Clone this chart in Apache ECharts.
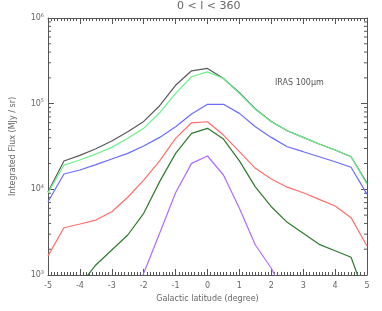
<!DOCTYPE html>
<html><head><meta charset="utf-8">
<script src="https://cdn.jsdelivr.net/npm/echarts@6/dist/echarts.min.js"></script>
<style>html,body{margin:0;padding:0;background:#fff}#c{width:382px;height:311px}</style>
</head><body><div id="c"></div>
<script>
var latitude = [-5,-4.5,-4,-3.5,-3,-2.5,-2,-1.5,-1,-0.5,0,0.5,1,1.5,2,2.5,3,3.5,4,4.5,5];
var fluxBlack  = [9300,21400,24900,29800,36600,47000,62100,94600,163800,242000,258000,197000,134000,87000,62000,48300,40400,33800,28800,24000,11800];
var fluxGreen  = [9100,19200,22000,25800,30900,39400,51500,78300,132000,206000,235000,197000,132000,85700,61500,48300,40400,33800,28800,24000,11500];
var fluxBlue   = [7160,15100,16800,19400,22600,26300,32000,40400,53700,75700,98200,98200,77000,53700,40400,31400,27500,24000,21000,18100,8800];
var fluxRed    = [1670,3560,3940,4380,5480,8080,12800,21500,39400,59800,61500,43000,27500,17600,13200,10600,9120,7640,6380,4670,2180];
var fluxDkGreen= [null,null,760,1310,1960,2930,5250,12300,26300,45000,51500,38600,21500,10700,6270,4120,3070,2280,1920,1610,500];
var fluxPurple = [null,null,null,null,null,370,1050,3070,9120,20100,24500,14700,6000,2240,1200,510,null,null,null,null,null];
var yMajor = [1000,10000,100000,1000000];
var yMinor = [];
[1000,10000,100000].forEach(function(d){for(var k=2;k<=9;k++) yMinor.push(d*k);});
var titleText = '0 < l < 360';
var annotation = 'IRAS 100\u03bcm';

var axisCol = '#555';
function pairs(arr){return latitude.map(function(x,i){return [x,arr[i]];});}
function lineSeries(arr,color){
  return {type:'line',data:pairs(arr),symbol:'none',clip:true,connectNulls:false,
    lineStyle:{color:color,width:1.2},animation:false,silent:true};
}
var chart = echarts.init(document.getElementById('c'),null,{renderer:'canvas'});
var expo = {1000:'3',10000:'4',100000:'5',1000000:'6'};
chart.setOption({
  backgroundColor:'#fff',
  animation:false,
  grid:{left:48,right:15,top:18,bottom:36},
  xAxis:[{type:'value',min:-5,max:5,interval:1,position:'bottom',
    name:'Galactic latitude (degree)',nameLocation:'middle',nameGap:19,
    nameTextStyle:{fontFamily:'DejaVu Sans',fontSize:8,color:'#666'},
    axisLine:{onZero:false,lineStyle:{color:axisCol,width:1}},
    axisTick:{inside:true,length:6,lineStyle:{color:axisCol}},
    minorTick:{show:true,splitNumber:10,length:3,lineStyle:{color:axisCol}},
    axisLabel:{fontFamily:'DejaVu Sans',fontSize:8,color:'#666',margin:7},
    splitLine:{show:false}},
   {type:'value',min:-5,max:5,interval:1,position:'top',
    axisLine:{onZero:false,lineStyle:{color:axisCol,width:1}},
    axisTick:{inside:true,length:6,lineStyle:{color:axisCol}},
    minorTick:{show:true,splitNumber:10,length:3,lineStyle:{color:axisCol}},
    axisLabel:{show:false},splitLine:{show:false}}],
  yAxis:[{type:'log',logBase:10,min:1000,max:1000000,position:'left',
    name:'Integrated Flux (MJy / sr)',nameLocation:'middle',nameGap:31,nameRotate:90,
    nameTextStyle:{fontFamily:'DejaVu Sans',fontSize:8,color:'#666'},
    axisLine:{show:true,onZero:false,lineStyle:{color:axisCol,width:1}},
    axisTick:{inside:true,length:6,lineStyle:{color:axisCol}},
    axisLabel:{margin:4,formatter:function(v){return '{b|10}{s|'+expo[Math.round(v)]+'}';},
      rich:{b:{fontFamily:'DejaVu Sans',fontSize:8,color:'#666'},s:{fontFamily:'DejaVu Sans',fontSize:5,color:'#666',verticalAlign:'top',padding:[0,0,5,0]}}},
    splitLine:{show:false}},
   {type:'log',logBase:10,min:1000,max:1000000,position:'right',
    axisLine:{show:true,onZero:false,lineStyle:{color:axisCol,width:1}},
    axisTick:{inside:true,length:6,lineStyle:{color:axisCol}},
    axisLabel:{show:false},splitLine:{show:false}}],
  graphic:[
    {type:'text',left:177,top:1,style:{text:titleText,fontFamily:'DejaVu Sans',fontSize:11,fill:'#666'}},
    {type:'text',left:275,top:79,style:{text:annotation,fontFamily:'DejaVu Sans',fontSize:8,fill:'#555'}}],
  series:[
    lineSeries(fluxBlack,'#5a5a5a'),
    lineSeries(fluxGreen,'#6cf08c'),
    lineSeries(fluxBlue,'#6b6bff'),
    lineSeries(fluxRed,'#ff6e6e'),
    lineSeries(fluxDkGreen,'#2e7a2e'),
    lineSeries(fluxPurple,'#b06cff'),
    {type:'custom',silent:true,clip:false,data:yMinor.map(function(v){return [0,v];}),
     renderItem:function(params,api){
       var v=api.value(1);
       var a=api.coord([-5,v]), b=api.coord([5,v]);
       return {type:'group',children:[
         {type:'line',shape:{x1:a[0],y1:a[1],x2:a[0]+3,y2:a[1]},style:{stroke:axisCol,lineWidth:1}},
         {type:'line',shape:{x1:b[0]-3,y1:b[1],x2:b[0],y2:b[1]},style:{stroke:axisCol,lineWidth:1}}]};
     }}
  ]
});
</script></body></html>
